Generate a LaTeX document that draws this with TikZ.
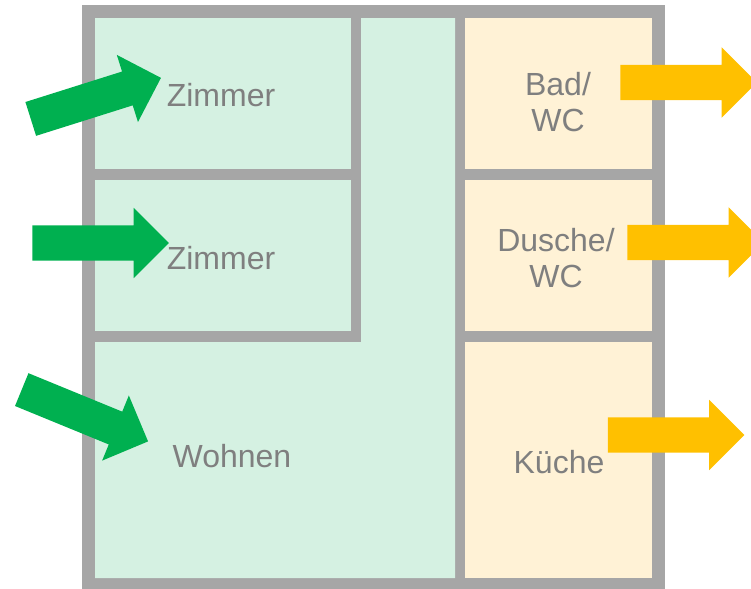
\documentclass[tikz,border=0pt]{standalone}
\usepackage{fontspec}
\usepackage{xcolor}
\usepackage{tikz}
\usetikzlibrary{shapes.arrows}
\setmainfont{Liberation Sans}

\definecolor{wallgray}{HTML}{A6A6A6}
\definecolor{roomgreen}{HTML}{D5F1E2}
\definecolor{roomyellow}{HTML}{FFF2D6}
\definecolor{airgreen}{HTML}{00B050}
\definecolor{airyellow}{HTML}{FFC000}
\definecolor{labelgray}{HTML}{7F7F7F}

\tikzset{
	roomlabel/.style={text=labelgray, font=\fontsize{24}{27.5}\selectfont, align=center, inner sep=0pt},
	airarrow/.style={shape=single arrow, anchor=tail, inner xsep=0pt, inner ysep=13.1pt, single arrow head extend=13.1pt, minimum height=102.4pt},
}

\begin{document}
\begin{tikzpicture}[x=0.75pt, y=-0.75pt]
		\useasboundingbox (0,0) rectangle (751,589);

		\fill [wallgray] (82,5) rectangle (665,589);

		\fill [roomgreen] (95,18) rectangle (351,169);
		\fill [roomgreen] (95,180) rectangle (351,331);
		\fill [roomgreen] (361,18) -- (455,18) -- (455,578) -- (95,578) -- (95,342) -- (361,342) -- cycle;

		\fill [roomyellow] (465,18) rectangle (652,169);
		\fill [roomyellow] (465,180) rectangle (652,331);
		\fill [roomyellow] (465,342) rectangle (652,578);

		\node[airarrow, fill=airgreen, rotate=17.5] (in1) at (30.5,119) {};
		\node[airarrow, fill=airgreen] (in2) at (32,243) {};
		\node[airarrow, fill=airgreen, rotate=-22.3] (in3) at (21.5,389.5) {};

		\node[airarrow, fill=airyellow] (out1) at (620,82.5) {};
		\node[airarrow, fill=airyellow] (out2) at (627,242.5) {};
		\node[airarrow, fill=airyellow] (out3) at (607.5,435) {};

		\node[roomlabel] (zimmer1) at (221,95) {Zimmer};
		\node[roomlabel] (zimmer2) at (221,258) {Zimmer};
		\node[roomlabel] (wohnen) at (232,456) {Wohnen};
		\node[roomlabel] (bad) at (558,102) {Bad/\\WC};
		\node[roomlabel] (dusche) at (556,258) {Dusche/\\WC};
		\node[roomlabel] (kueche) at (559,462) {Küche};

		\end{tikzpicture}
\end{document}
